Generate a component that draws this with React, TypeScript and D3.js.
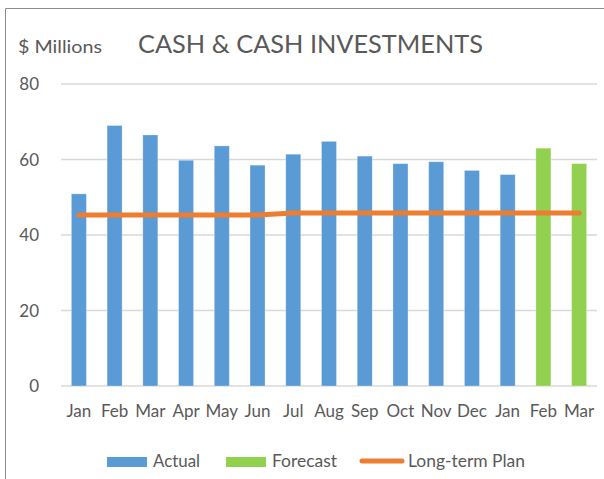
import React, { useEffect, useRef } from 'react'
import * as d3 from 'd3'

const months = ['Jan', 'Feb', 'Mar', 'Apr', 'May', 'Jun', 'Jul', 'Aug', 'Sep', 'Oct', 'Nov', 'Dec', 'Jan', 'Feb', 'Mar']
// null where the series has no bar
const actual = [50.9, 69.0, 66.5, 59.8, 63.6, 58.5, 61.4, 64.8, 60.9, 58.9, 59.4, 57.1, 56.0, null, null]
const forecast = [null, null, null, null, null, null, null, null, null, null, null, null, null, 63.0, 58.9]
const longTermPlan = [45.3, 45.3, 45.3, 45.3, 45.3, 45.3, 45.8, 45.8, 45.8, 45.8, 45.8, 45.8, 45.8, 45.8, 45.8]
const yTicks = [0, 20, 40, 60, 80]

const W = 604
const H = 479
const FONT = 'Lato, "Open Sans", sans-serif'
const TEXT = '#595959'

const App = () => {
  const svgRef = useRef(null)

  useEffect(() => {
    const svg = d3.select(svgRef.current)
    svg.selectAll('*').remove()

    const idx = months.map((_, i) => i)
    const x = d3.scaleBand().domain(idx).range([61, 597]).paddingInner(0.58).paddingOuter(0.29)
    const y = d3.scaleLinear().domain([0, 80]).range([386, 84])

    // outer chart border (left and top only visible)
    svg.append('path')
      .attr('d', `M5.5,${H} L5.5,8.5 L${W},8.5`)
      .attr('fill', 'none')
      .attr('stroke', '#8c8c8c')
      .attr('stroke-width', 1)

    svg.append('text')
      .text('$ Millions')
      .attr('x', 18).attr('y', 53)
      .attr('font-size', 18).attr('fill', TEXT)
      .attr('font-family', FONT)
      .attr('textLength', 84).attr('lengthAdjust', 'spacingAndGlyphs')

    svg.append('text')
      .text('CASH & CASH INVESTMENTS')
      .attr('x', 138).attr('y', 53)
      .attr('font-size', 25).attr('fill', TEXT)
      .attr('font-family', FONT)
      .attr('textLength', 345).attr('lengthAdjust', 'spacingAndGlyphs')

    // gridlines
    svg.append('g')
      .selectAll('line')
      .data(yTicks)
      .join('line')
        .attr('x1', 61).attr('x2', 597)
        .attr('y1', d => y(d)).attr('y2', d => y(d))
        .attr('stroke', '#d9d9d9').attr('stroke-width', 1.3)

    svg.append('g')
      .selectAll('text')
      .data(yTicks)
      .join('text')
        .text(d => d)
        .attr('x', 39).attr('y', d => y(d) + 6)
        .attr('text-anchor', 'end')
        .attr('font-size', 17).attr('fill', TEXT)
        .attr('font-family', FONT)

    const drawBars = (vals, color) => {
      svg.append('g')
        .selectAll('rect')
        .data(vals.map((v, i) => ({ v, i })).filter(d => d.v != null))
        .join('rect')
          .attr('x', d => x(d.i))
          .attr('width', x.bandwidth())
          .attr('y', d => y(d.v))
          .attr('height', d => y(0) - y(d.v))
          .attr('fill', color)
          .attr('stroke', '#ffffff').attr('stroke-opacity', 0.35).attr('stroke-width', 0.8)
    }
    drawBars(actual, '#5b9bd5')
    drawBars(forecast, '#92d050')

    const line = d3.line()
      .x((d, i) => x(i) + x.bandwidth() / 2)
      .y(d => y(d))
    svg.append('path')
      .attr('d', line(longTermPlan))
      .attr('fill', 'none')
      .attr('stroke', '#ed7d31')
      .attr('stroke-width', 5)
      .attr('stroke-linecap', 'round')
      .attr('stroke-linejoin', 'round')

    // x labels
    svg.append('g')
      .selectAll('text')
      .data(idx)
      .join('text')
        .text(i => months[i])
        .attr('x', i => x(i) + x.bandwidth() / 2)
        .attr('y', 417)
        .attr('text-anchor', 'middle')
        .attr('font-size', 17).attr('fill', TEXT)
        .attr('font-family', FONT)

    // legend
    const legend = svg.append('g')
    const legendText = (t, lx, len) => legend.append('text').text(t).attr('x', lx).attr('y', 467)
      .attr('font-size', 17).attr('fill', TEXT).attr('font-family', FONT)
      .attr('textLength', len).attr('lengthAdjust', 'spacingAndGlyphs')
    legend.append('rect').attr('x', 107).attr('y', 457).attr('width', 40).attr('height', 10).attr('fill', '#5b9bd5')
    legendText('Actual', 153, 47)
    legend.append('rect').attr('x', 226).attr('y', 457).attr('width', 40).attr('height', 10).attr('fill', '#92d050')
    legendText('Forecast', 272, 65)
    legend.append('line').attr('x1', 362).attr('x2', 402).attr('y1', 461).attr('y2', 461)
      .attr('stroke', '#ed7d31').attr('stroke-width', 5).attr('stroke-linecap', 'round')
    legendText('Long-term Plan', 408, 117)
  }, [])

  return (
    <svg ref={svgRef} width={W} height={H}
      style={{ position: 'absolute', left: 0, top: 0, background: '#fff' }} />
  )
}

export default App
